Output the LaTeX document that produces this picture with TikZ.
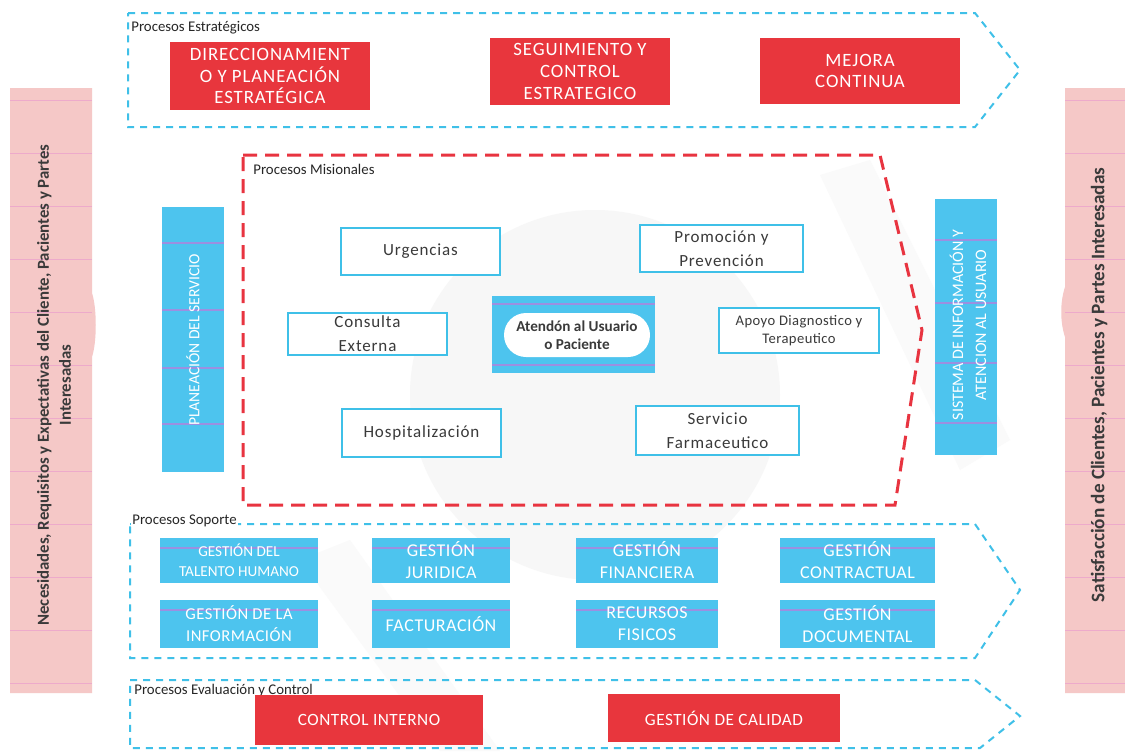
\documentclass[tikz,border=0pt]{standalone}
\usepackage{fontspec}
\setmainfont{Carlito}
\newfontfamily\wide[LetterSpace=5]{Carlito}
\newfontfamily\wideb[LetterSpace=3]{Carlito}
\definecolor{cy}{HTML}{4DC4EE}
\definecolor{cyline}{HTML}{3FC0E8}
\definecolor{rd}{HTML}{E8363D}
\definecolor{rdash}{HTML}{E83440}
\definecolor{pk}{HTML}{F5C8C7}
\definecolor{pkline}{HTML}{EDAACB}
\definecolor{pu}{HTML}{9C8FE0}
\definecolor{txt}{HTML}{3A3A3A}
\begin{document}
\begin{tikzpicture}[x=0.5pt,y=-0.5pt,
  cychev/.style={draw=cyline, line width=1pt, dash pattern=on 3.5pt off 3pt},
  redchev/.style={draw=rdash, line width=1.5pt, dash pattern=on 7pt off 4pt},
  redbox/.style={fill=rd, text=white, align=center, inner sep=0pt, font=\wide\fontsize{9.4}{10.8}\selectfont},
  misbox/.style={draw=cyline, line width=1.4pt, fill=white, text=txt, align=center, inner sep=0pt, font=\wide\fontsize{8.5}{12}\selectfont},
  supbox/.style={fill=cy, text=white, align=center, inner sep=0pt, font=\wideb\fontsize{9}{11}\selectfont,
    path picture={\draw[pu, line width=0.9pt] ([yshift=-5pt]path picture bounding box.north west) -- ([yshift=-5pt]path picture bounding box.north east);}},
  bar/.style={fill=cy, inner sep=0pt},
  lbl/.style={anchor=base west, inner sep=0pt, text=black!85, font=\fontsize{7.4}{8}\selectfont},
  pinkbar/.style={fill=pk, draw=none}
]
\useasboundingbox (0,0) rectangle (1125,751);
\fill[white] (0,0) rectangle (1125,751);

% faint watermark
\fill[gray!6] (595,395) circle (185);
\fill[gray!4] (820,175) -- (870,160) -- (1010,440) -- (960,470) -- cycle;
\fill[gray!4] (300,560) -- (350,540) -- (500,751) -- (440,751) -- cycle;

% pink side bars
\path[pinkbar] (10,88) -- (92,88) -- (92,293) .. controls (97,308) and (97,342) .. (92,357) -- (92,693) -- (10,693) -- cycle;
\path[pinkbar] (1065,88) -- (1125,88) -- (1125,693) -- (1065,693) -- (1065,337) .. controls (1060,322) and (1060,302) .. (1065,287) -- cycle;
\foreach \yy in {100,153,206,259,312,365,418,471,524,577,630,683} {
  \draw[pkline, line width=0.4pt] (10,\yy) -- (92,\yy);
  \draw[pkline, line width=0.4pt] (1065,\yy) -- (1125,\yy);
}
\node[rotate=90, align=center, text=txt, font=\bfseries\fontsize{8.4}{11}\selectfont, inner sep=0pt] (need) at (54,385)
  {Necesidades, Requisitos y Expectativas del Cliente, Pacientes y Partes\\Interesadas};
\node[rotate=90, text=txt, font=\bfseries\fontsize{9.6}{11}\selectfont, inner sep=0pt] (sat) at (1099,385)
  {Satisfacción de Clientes, Pacientes y Partes Interesadas};

% strategic
\draw[cychev] (128,13) -- (975,13) -- (1020,70) -- (975,127) -- (128,127) -- cycle;
\node[lbl] (lstr) at (131,31) {Procesos Estratégicos};
\node[redbox, minimum width=100pt, minimum height=34pt] (dir) at (270,76) {DIRECCIONAMIENT\\O Y PLANEACIÓN\\ESTRATÉGICA};
\node[redbox, minimum width=90pt, minimum height=33.5pt] (seg) at (580,71.5) {SEGUIMIENTO Y\\CONTROL\\ESTRATEGICO};
\node[redbox, minimum width=100pt, minimum height=33pt] (mej) at (860,71) {MEJORA\\CONTINUA};

% misionales
\draw[redchev] (243,155) -- (880,155) -- (922,330) -- (895,505) -- (243,505) -- cycle;
\node[lbl] (lmis) at (253,174) {Procesos Misionales};
\node[misbox, minimum width=79.5pt, minimum height=23.5pt] (urg) at (420.5,251.5) {Urgencias};
\node[misbox, minimum width=81.5pt, minimum height=23.5pt] (pro) at (721.5,248.5) {Promoción y\\Prevención};
\node[misbox, minimum width=79.5pt, minimum height=21pt] (con) at (367.5,334) {Consulta\\Externa};
\node[misbox, minimum width=80pt, minimum height=22.5pt, font=\wideb\fontsize{7.3}{9}\selectfont] (apo) at (799,330.5) {Apoyo Diagnostico y\\Terapeutico};
\node[misbox, minimum width=79.5pt, minimum height=24pt] (hos) at (421.5,433) {Hospitalización};
\node[misbox, minimum width=81.5pt, minimum height=24.5pt] (ser) at (717.5,430.5) {Servicio\\Farmaceutico};
\node[fill=cy, minimum width=81.5pt, minimum height=38.5pt, inner sep=0pt] (cen) at (573.5,334.5) {};
\draw[pu, line width=1.2pt] (492,304) -- (655,304);
\draw[pu, line width=1.2pt] (492,365) -- (655,365);
\node[fill=white, rounded corners=11pt, minimum width=73pt, minimum height=22pt, inner sep=0pt,
  align=center, font=\bfseries\fontsize{7.6}{9}\selectfont, text=txt] (aten) at (577,335) {Atendón al Usuario\\o Paciente};

% side cyan bars
\node[bar, minimum width=31pt, minimum height=132.5pt] (pla) at (193,339.5) {};
\foreach \yy in {243,310,368,424} \draw[pu, line width=1pt] (162,\yy) -- (224,\yy);
\node[rotate=90, text=white, font=\fontsize{7.8}{9}\selectfont, inner sep=0pt] (plat) at (193,340) {PLANEACIÓN DEL SERVICIO};
\node[bar, minimum width=31pt, minimum height=128pt] (sis) at (966,327) {};
\foreach \yy in {240,303,363,423} \draw[pu, line width=1pt] (935,\yy) -- (997,\yy);
\node[rotate=90, text=white, align=center, font=\fontsize{8}{11.5}\selectfont, inner sep=0pt] (sist) at (968,325) {SISTEMA DE INFORMACIÓN Y\\ATENCION AL USUARIO};

% soporte
\draw[cychev] (130,524) -- (975,524) -- (1020,590) -- (975,658) -- (130,658) -- cycle;
\node[lbl, fill=white, inner sep=0.5pt] (lsop) at (131,524) {Procesos Soporte};
\node[supbox, minimum width=79pt, minimum height=22.5pt, font=\fontsize{7.6}{10}\selectfont] (s1) at (239,560.5) {GESTIÓN DEL\\TALENTO HUMANO};
\node[supbox, minimum width=69pt, minimum height=22.5pt] (s2) at (441,560.5) {GESTIÓN\\JURIDICA};
\node[supbox, minimum width=71pt, minimum height=22.5pt] (s3) at (647,560.5) {GESTIÓN\\FINANCIERA};
\node[supbox, minimum width=77.5pt, minimum height=22.5pt] (s4) at (857.5,560.5) {GESTIÓN\\CONTRACTUAL};
\node[supbox, minimum width=79pt, minimum height=24pt, font=\wideb\fontsize{8.3}{11}\selectfont] (s5) at (239,624) {GESTIÓN DE LA\\INFORMACIÓN};
\node[supbox, minimum width=69pt, minimum height=24pt] (s6) at (441,624) {FACTURACIÓN};
\node[supbox, minimum width=71pt, minimum height=24pt] (s7) at (647,624) {RECURSOS\\FISICOS};
\node[supbox, minimum width=77.5pt, minimum height=24pt] (s8) at (857.5,624) {GESTIÓN\\DOCUMENTAL};

% evaluacion
\draw[cychev] (130,680) -- (975,680) -- (1020,716) -- (980,748) -- (130,748) -- cycle;
\node[lbl] (leva) at (134,694) {Procesos Evaluación y Control};
\node[redbox, minimum width=114pt, minimum height=25pt, font=\wideb\fontsize{8.6}{10}\selectfont] (ci) at (369,720) {CONTROL INTERNO};
\node[redbox, minimum width=116pt, minimum height=24pt, font=\wideb\fontsize{8.6}{10}\selectfont] (gc) at (724,718) {GESTIÓN DE CALIDAD};
\end{tikzpicture}
\end{document}
